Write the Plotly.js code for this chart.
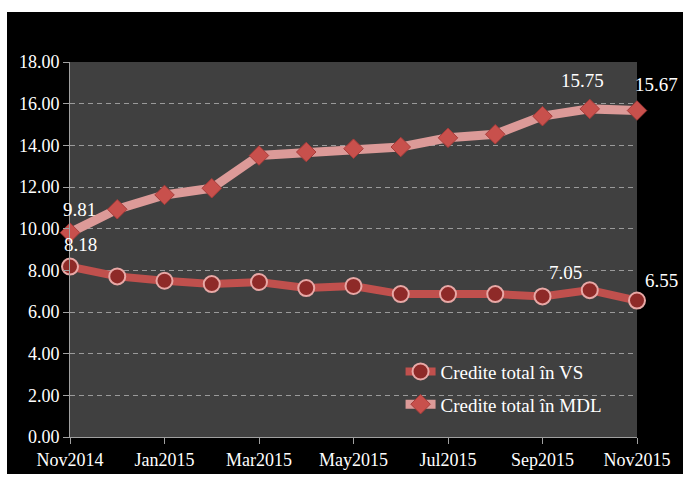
<!DOCTYPE html>
<html><head><meta charset="utf-8">
<script src="https://cdn.plot.ly/plotly-3.0.1.min.js"></script>
<style>html,body{margin:0;padding:0;background:#ffffff;width:683px;height:477px;overflow:hidden}
#chart{position:absolute;left:7px;top:12px;width:676px;height:462px}</style>
</head><body><div id="chart"></div>
<script>
const months = ['Nov2014','Dec2014','Jan2015','Feb2015','Mar2015','Apr2015','May2015','Jun2015','Jul2015','Aug2015','Sep2015','Oct2015','Nov2015'];
const tickMonths = ['Nov2014','Jan2015','Mar2015','May2015','Jul2015','Sep2015','Nov2015'];
const vsValues = [8.18, 7.71, 7.50, 7.34, 7.44, 7.15, 7.25, 6.86, 6.86, 6.86, 6.75, 7.05, 6.55];
const mdlValues = [9.81, 10.93, 11.62, 11.94, 13.51, 13.68, 13.84, 13.92, 14.36, 14.53, 15.40, 15.75, 15.67];
const vsName = 'Credite total în VS';
const mdlName = 'Credite total în MDL';
// labelled points: [series, index, xshift, yshift]
const labelPts = [['mdl',0,9,23],['vs',0,10,22],['mdl',11,-7,28],['mdl',12,19,26],['vs',11,-24,18],['vs',12,24,20]];

const serif = 'Liberation Serif, Times New Roman, serif';
const traces = [
  {x: months, y: vsValues, name: vsName, legendgroup:'a', type:'scatter', mode:'lines+markers', cliponaxis:false,
   line:{color:'#c0504d', width:8},
   marker:{symbol:'circle', size:16, color:'#8e2a28', line:{color:'#e8a8a6', width:2}}},
  {x: months, y: mdlValues, name: mdlName, legendgroup:'b', type:'scatter', mode:'lines+markers', cliponaxis:false,
   line:{color:'#dc9a98', width:9},
   marker:{symbol:'diamond', size:15, color:'#c8504c', line:{color:'#a83c3a', width:1}}}
];
const annotations = labelPts.map(([s,i,dx,dy]) => {
  const arr = s==='vs' ? vsValues : mdlValues;
  return {x: months[i], y: arr[i], xref:'x', yref:'y', text: arr[i].toFixed(2), showarrow:false,
          xshift: dx, yshift: dy, font:{family: serif, size:19, color:'#ffffff'}};
});
const layout = {
  width: 676, height: 462,
  margin:{l:63, r:46, t:50, b:37},
  paper_bgcolor:'#000000', plot_bgcolor:'#404040',
  showlegend:true,
  legend:{x:0.583, y:0.225, xanchor:'left', yanchor:'top', bgcolor:'rgba(0,0,0,0)', traceorder:'grouped',
          font:{family: serif, size:19, color:'#ffffff'}, tracegroupgap:5, itemwidth:30},
  xaxis:{type:'category', range:[0,12], tickmode:'array', tickvals: tickMonths, ticktext: tickMonths,
         ticks:'outside', ticklen:6, tickcolor:'#a0a0a0', showline:true, linecolor:'#a0a0a0', linewidth:1,
         showgrid:false, zeroline:false, tickfont:{family: serif, size:18, color:'#ffffff'}},
  yaxis:{range:[0,18], dtick:2, tickformat:'.2f', ticks:'outside', ticklen:6, tickcolor:'#a0a0a0',
         showline:true, linecolor:'#a0a0a0', linewidth:1, zeroline:false,
         gridcolor:'#9a9a9a', griddash:'5px,4px', gridwidth:1,
         tickfont:{family: serif, size:18, color:'#ffffff'}},
  annotations: annotations
};
Plotly.newPlot('chart', traces, layout, {displayModeBar:false, staticPlot:true});
</script></body></html>
